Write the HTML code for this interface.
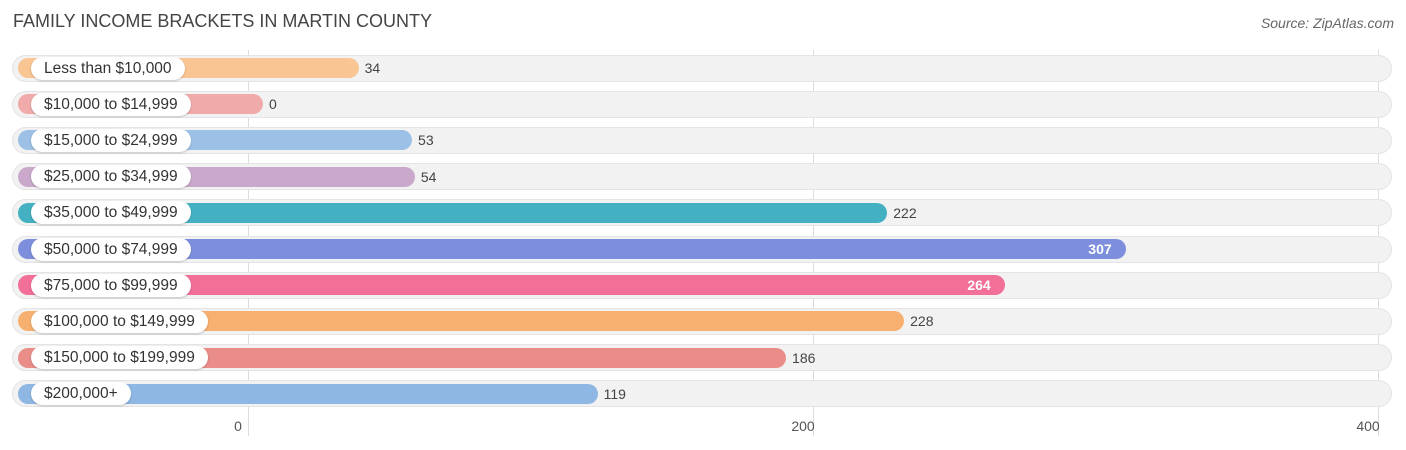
<!DOCTYPE html>
<html><head><meta charset="utf-8">
<style>
body{margin:0;width:1406px;height:450px;background:#fff;font-family:"Liberation Sans",sans-serif;position:relative;overflow:hidden}
.t{position:absolute;left:13px;top:11px;font-size:18px;color:#444}
.src{position:absolute;right:12px;top:15px;font-size:14px;color:#666;font-style:italic}
.grid{position:absolute;top:50px;height:386px;width:1px;background:#ddd}
.tick{position:absolute;top:418px;font-size:14px;color:#555;transform:translateX(-50%)}
.row{position:absolute;left:12px;width:1380px;height:27px;border-radius:14px;background:#f2f2f2;box-shadow:inset 0 0 0 1px #e4e4e4}
.bar{position:absolute;left:18px;height:20px;border-radius:10px}
.lab{position:absolute;left:31px;height:23px;line-height:23px;padding:0 13px;background:#fff;border-radius:12px;font-size:15.5px;color:#333;box-shadow:0 1px 2px rgba(0,0,0,.2)}
.val{position:absolute;font-size:14px;color:#444;line-height:20px}
.val.in{color:#fff;font-weight:bold}
</style></head><body>
<div class="t">FAMILY INCOME BRACKETS IN MARTIN COUNTY</div>
<div class="src">Source: ZipAtlas.com</div>
<div id="c"></div>
<script>
const categories=["Less than $10,000","$10,000 to $14,999","$15,000 to $24,999","$25,000 to $34,999","$35,000 to $49,999","$50,000 to $74,999","$75,000 to $99,999","$100,000 to $149,999","$150,000 to $199,999","$200,000+"];
const values=[34,0,53,54,222,307,264,228,186,119];
const colors=["#f9c593","#f0aaa9","#9dc1e6","#c9a8cc","#43b1c1","#7d8edc","#f26f98","#f7b06f","#ea8d89","#8fb7e4"];
const ticks=[0,200,400];
const c=document.getElementById('c');
const x0=263,k=2.812;
function bx(v){return x0+v*k;}
function gx(v){return 248+v*2.825;}
ticks.forEach(t=>{
 const g=document.createElement('div');g.className='grid';g.style.left=gx(t)+'px';
 
 
 c.appendChild(g);
 const l=document.createElement('div');l.className='tick';l.style.left=(gx(t)-10)+'px';l.textContent=t;
 
 
 c.appendChild(l);
});
categories.forEach((cat,i)=>{
 const cy=68+i*36.2;
 const r=document.createElement('div');r.className='row';r.style.top=(cy-13.5)+'px';
 
 
 c.appendChild(r);
 const b=document.createElement('div');b.className='bar';b.style.top=(cy-10)+'px';
 b.style.width=(bx(values[i])-18)+'px';b.style.background=colors[i];
 
 
 c.appendChild(b);
 const l=document.createElement('div');l.className='lab';l.style.top=(cy-11.5)+'px';l.textContent=cat;
 
 
 c.appendChild(l);
 const v=document.createElement('div');v.className='val';v.style.top=(cy-10)+'px';v.textContent=values[i];
 if(values[i]>250){v.classList.add('in');v.style.left=(bx(values[i])-38)+'px';}
 else v.style.left=(bx(values[i])+6)+'px';
 
 
 c.appendChild(v);
});
</script>
</body></html>
